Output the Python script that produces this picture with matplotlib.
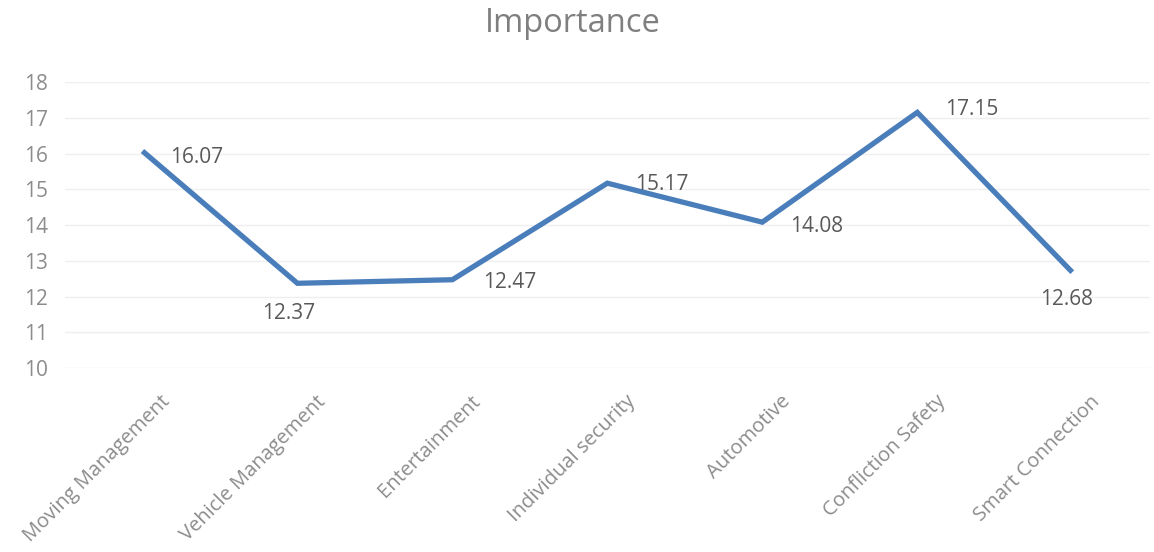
import matplotlib.pyplot as plt

plt.rcParams['font.family'] = ['Open Sans', 'DejaVu Sans']

categorias = ['Moving Management', 'Vehicle Management', 'Entertainment',
              'Individual security', 'Automotive', 'Confliction Safety',
              'Smart Connection']
importancia = [16.07, 12.37, 12.47, 15.17, 14.08, 17.15, 12.68]
# desplazamiento de cada etiqueta (puntos)
offsets = [(20, -5), (-6, -22), (22, -2), (20, -1), (20, -3), (20, 2), (-4, -20)]

fig = plt.figure(figsize=(11.54, 5.52), dpi=100)
ax = fig.add_axes([0.0563, 0.3333, 0.94, 0.5181])

x = range(len(categorias))
ax.plot(x, importancia, color='#4A7EBB', linewidth=3.8, solid_joinstyle='miter',
        solid_capstyle='butt', zorder=3)

for i, v in enumerate(importancia):
    ax.annotate(f'{v:.2f}', (i, v), xytext=offsets[i], textcoords='offset points',
                ha='left' if offsets[i][0] > 10 else 'center', va='center',
                fontsize=15, color='#595959')

ax.set_xlim(-0.5, len(categorias) - 0.5)
ax.set_ylim(10, 18)
ax.set_yticks(range(10, 19))
ax.set_xticks(list(x))
ax.set_xticklabels([])
# etiquetas de categoría giradas 45°
for i, cat in enumerate(categorias):
    ax.annotate(cat, (i, 10), xytext=(13, -17), textcoords='offset points',
                rotation=45, ha='right', va='top', rotation_mode='anchor',
                fontsize=14.5, color='#8C8C8C', annotation_clip=False)
ax.tick_params(axis='y', labelsize=15, labelcolor='#8C8C8C', length=0, pad=12)
ax.tick_params(axis='x', length=0)
ax.grid(axis='y', color='#EFEFEF', linewidth=1)
ax.set_axisbelow(True)
for s in ax.spines.values():
    s.set_visible(False)

fig.text(0.4965, 0.958, 'Importance', ha='center', va='center', fontsize=23.5, color='#7F7F7F')

fig.savefig('out.png', dpi=100)
